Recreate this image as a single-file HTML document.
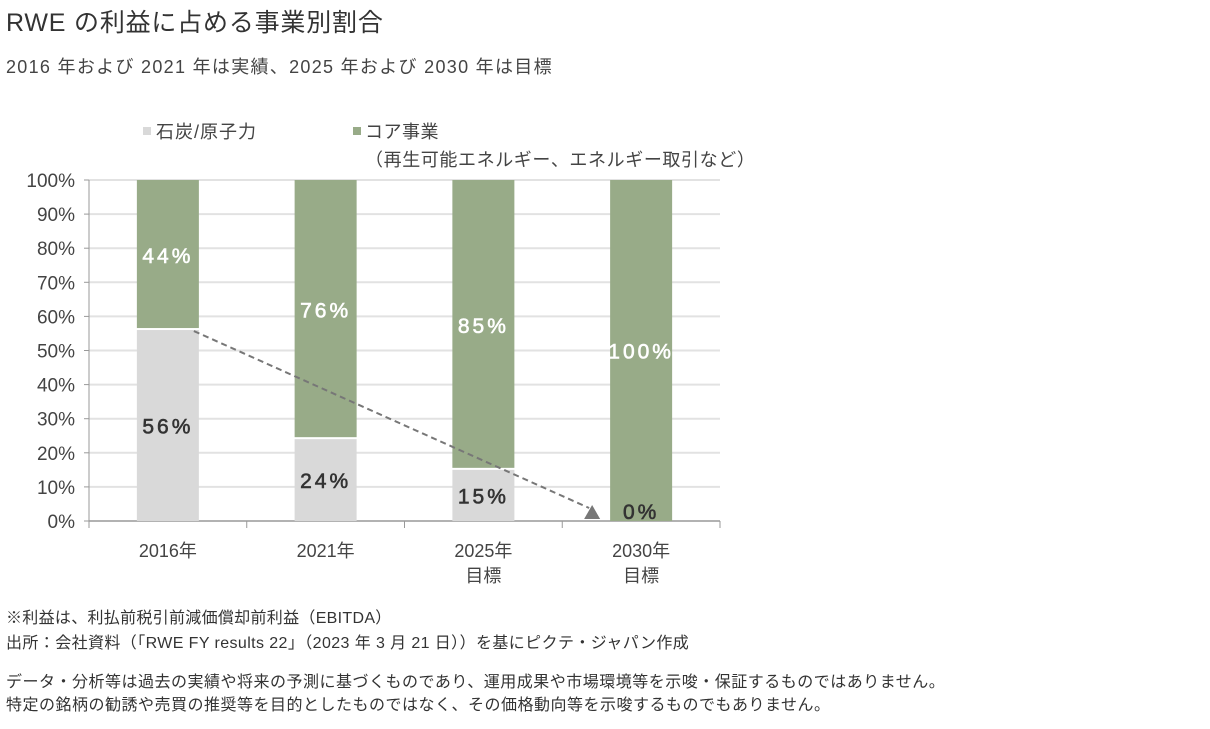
<!DOCTYPE html>
<html><head><meta charset="utf-8">
<style>
body{margin:0;background:#fff;width:1210px;height:729px;overflow:hidden;font-family:"Liberation Sans","Noto Sans CJK JP",sans-serif;color:#333}
.t{position:absolute;white-space:nowrap}
</style></head><body>
<div class="t" style="left:6px;top:3px;font-size:25px;letter-spacing:0.8px;color:#333">RWE の利益に占める事業別割合</div>
<div class="t" style="left:6px;top:53px;font-size:18px;letter-spacing:1.3px;color:#444">2016 年および 2021 年は実績、2025 年および 2030 年は目標</div>
<svg id="chart" width="1210" height="729" style="position:absolute;left:0;top:0" font-family="Liberation Sans, Noto Sans CJK JP, sans-serif"></svg>
<div class="t" style="left:6px;top:604px;font-size:16px;letter-spacing:0.3px;color:#333">※利益は、利払前税引前減価償却前利益（EBITDA）</div>
<div class="t" style="left:6px;top:629px;font-size:16px;letter-spacing:0.4px;color:#333">出所：会社資料（「RWE FY results 22」（2023 年 3 月 21 日））を基にピクテ・ジャパン作成</div>
<div class="t" style="left:6px;top:668px;font-size:16px;letter-spacing:0.5px;color:#333">データ・分析等は過去の実績や将来の予測に基づくものであり、運用成果や市場環境等を示唆・保証するものではありません。</div>
<div class="t" style="left:6px;top:691px;font-size:16px;letter-spacing:0.5px;color:#333">特定の銘柄の勧誘や売買の推奨等を目的としたものではなく、その価格動向等を示唆するものでもありません。</div>
<script>
const categories=[["2016年"],["2021年"],["2025年","目標"],["2030年","目標"]];
const coal=[56,24,15,0];
const core=[44,76,85,100];
const yTicks=[0,10,20,30,40,50,60,70,80,90,100];
const svg=document.getElementById('chart');
const NS='http://www.w3.org/2000/svg';
const X0=89,X1=720,Y0=521,Y1=180;
const cw=(X1-X0)/categories.length;
const y=v=>Y0-(v/100)*(Y0-Y1);
const xc=i=>X0+cw*(i+0.5);
function mk(tag,a){const e=document.createElementNS(NS,tag);for(const k in a)e.setAttribute(k,a[k]);svg.appendChild(e);return e;}
yTicks.forEach(t=>{
  const g=mk('line',{x1:X0,x2:X1,y1:y(t),y2:y(t),stroke:t===0?'#999':'#e2e2e2','stroke-width':t===0?1.5:2});
  
  
  mk('line',{x1:X0-5,x2:X0,y1:y(t),y2:y(t),stroke:'#999'});
  const l=mk('text',{x:X0-14,y:y(t)+7,'text-anchor':'end','font-size':19,fill:'#444'});
  l.textContent=t+'%';
  
  
});
mk('line',{x1:X0,x2:X0,y1:Y1,y2:Y0,stroke:'#999'});
for(let i=0;i<=categories.length;i++)mk('line',{x1:X0+cw*i,x2:X0+cw*i,y1:Y0,y2:Y0+7,stroke:'#999'});
const bw=62;
categories.forEach((c,i)=>{
  const cx=xc(i);
  const r1=mk('rect',{x:cx-bw/2,y:y(coal[i]),width:bw,height:y(0)-y(coal[i]),fill:'#d9d9d9'});
  
  
  const r2=mk('rect',{x:cx-bw/2,y:y(coal[i]+core[i]),width:bw,height:Math.max(0,y(coal[i])-y(coal[i]+core[i])-(coal[i]>0?2:0)),fill:'#98ab88'});
  
  
  const t2=mk('text',{x:cx,y:(y(coal[i])+y(coal[i]+core[i]))/2+8,'text-anchor':'middle','font-size':21,fill:'#fff',stroke:'#fff','stroke-width':0.6,'letter-spacing':3});
  t2.textContent=core[i]+'%';
  
  
  const t1=mk('text',{x:cx,y:coal[i]>0?(y(0)+y(coal[i]))/2+8:y(0)-2,'text-anchor':'middle','font-size':21,fill:'#333',stroke:'#333','stroke-width':0.6,'letter-spacing':3});
  t1.textContent=coal[i]+'%';
  
  
  c.forEach((s,k)=>{
    const l=mk('text',{x:cx,y:557+k*25,'text-anchor':'middle','font-size':18,fill:'#444'});
    l.textContent=s;
    
    
  });
});
const ar=mk('line',{x1:xc(0)+26,y1:y(coal[0])+1,x2:xc(3)-52,y2:y(0)-13,stroke:'#777','stroke-width':2,'stroke-dasharray':'6,4'});


const hx=xc(3)-49,hy=y(0)-8;
mk('polygon',{points:`${hx-8},${hy+6} ${hx+8},${hy+6} ${hx},${hy-8}`,fill:'#777'});
// legend
mk('rect',{x:143,y:127,width:8,height:8,fill:'#d9d9d9'});
let lt=mk('text',{x:156,y:138,'font-size':18,fill:'#444','letter-spacing':1});lt.textContent='石炭/原子力';


mk('rect',{x:353,y:127,width:8,height:8,fill:'#98ab88'});
lt=mk('text',{x:365,y:138,'font-size':18,fill:'#444','letter-spacing':0.5});lt.textContent='コア事業';


lt=mk('text',{x:365,y:166,'font-size':18,fill:'#444','letter-spacing':0.6});lt.textContent='（再生可能エネルギー、エネルギー取引など）';


</script>
</body></html>
